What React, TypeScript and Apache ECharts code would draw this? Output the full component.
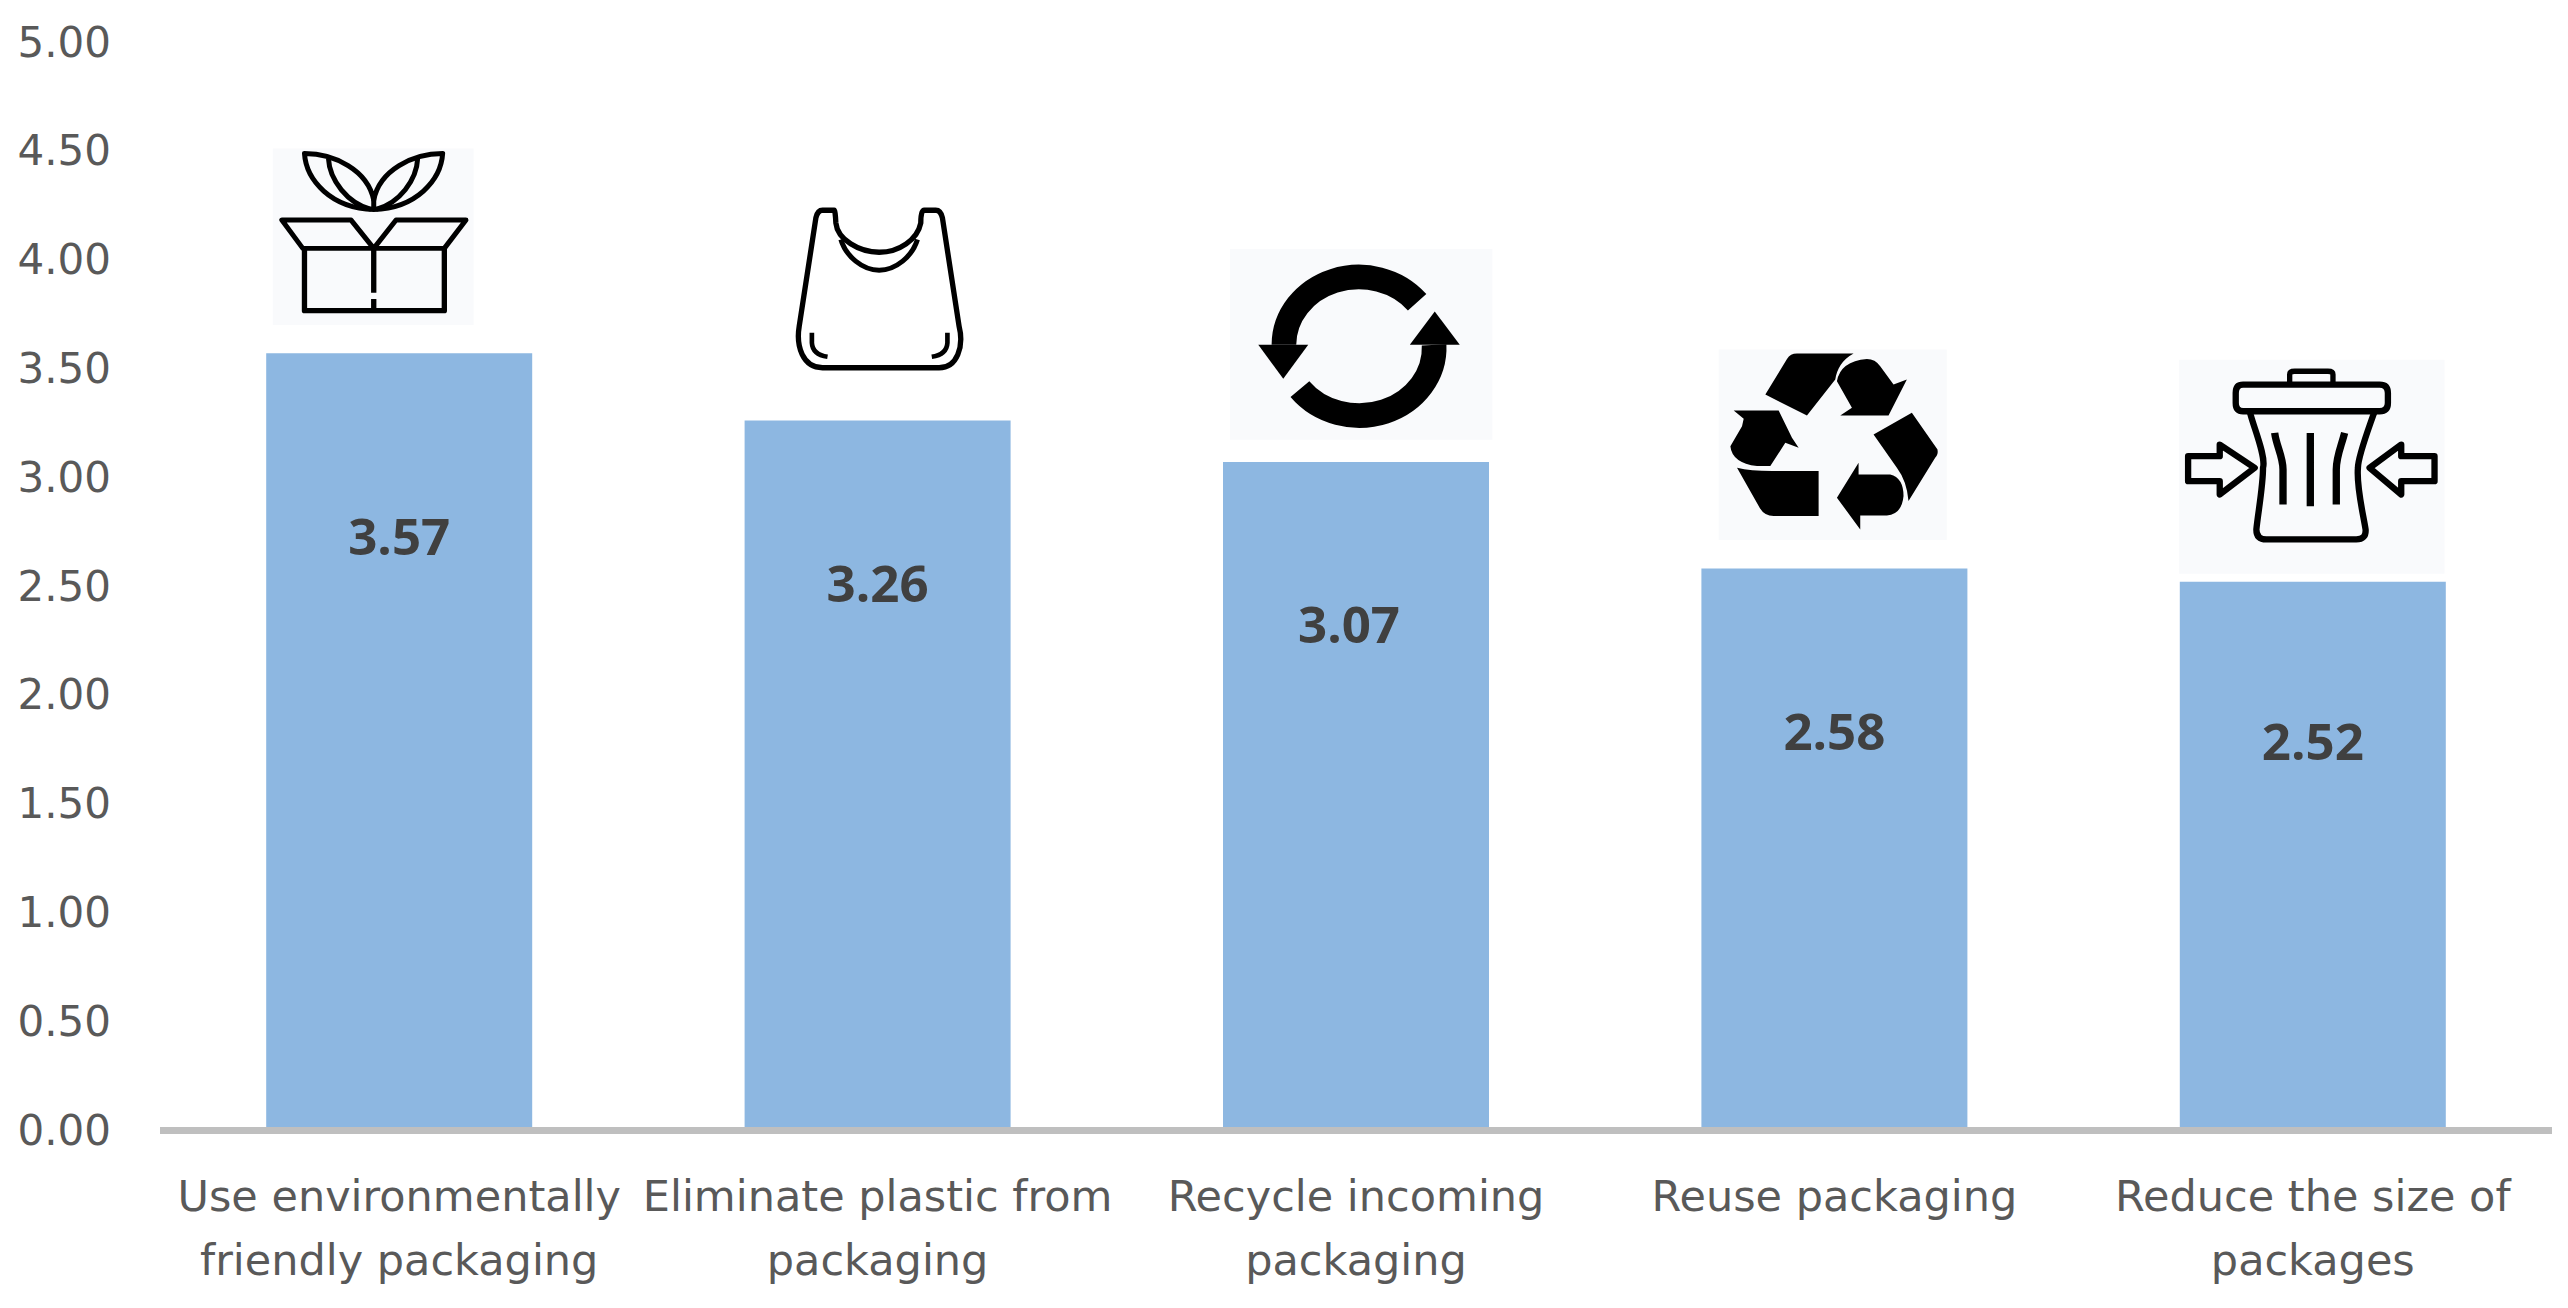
import React, { useEffect, useRef } from 'react';
import * as echarts from 'echarts';

const categories = [
  'Use environmentally\nfriendly packaging',
  'Eliminate plastic from\npackaging',
  'Recycle incoming\npackaging',
  'Reuse packaging',
  'Reduce the size of\npackages',
];
const values = [3.57, 3.26, 3.07, 2.58, 2.52];
// label nudges from the bar's top centre, in px
const labelOffsetX = [0, 0, -7, 0, 0];
const labelOffsetY = [156, 136, 136, 136, 133];

type Piece = { d: string; fill?: boolean; width?: number };
type Icon = { dx: number; dy: number; box?: number[]; pieces: Piece[] };

// Icons are drawn in 3x crop units, dx/dy place them relative to the top of their bar
const icons: Icon[] = [
  {
    dx: -158,
    dy: -233,
    box: [95, 85, 603, 530],
    pieces: [
      { d: 'M190,100 C195,180 270,265 398,268 C525,265 600,180 605,100 C515,100 415,150 398,240 C380,150 280,100 190,100 Z', width: 15 },
      { d: 'M262,115 C265,180 320,250 390,268 M530,115 C527,180 475,250 405,268 M398,215 V268', width: 15 },
      { d: 'M185,385 L122,300 H330 L398,385 L465,300 H675 L610,385 Z', width: 15 },
      { d: 'M190,385 V572 H610 V385 M398,385 V518 M398,537 V572', width: 16 },
    ],
  },
  {
    dx: -115,
    dy: -241,
    pieces: [
      {
        d: 'M215,92 H180 Q165,92 160,115 L110,440 C100,500 120,565 180,565 H530 C585,565 605,500 590,440 L540,115 Q535,92 520,92 H485 Q475,92 475,130 C465,180 410,218 350,218 C290,218 225,180 220,130 Q218,92 215,92 Z',
        width: 16,
      },
      { d: 'M235,180 C250,230 300,272 350,272 C400,272 450,230 465,180', width: 15 },
      { d: 'M148,460 V490 Q150,525 195,532 M555,460 V490 Q553,525 508,532', width: 14 },
    ],
  },
  {
    dx: -146,
    dy: -232,
    box: [60, 57, 788, 573],
    pieces: [
      { d: 'M622,217 A225,204 0 0 0 222,345', width: 74 },
      { d: 'M270,478 A225,204 0 0 0 673,345', width: 74 },
      { d: 'M145,345 H295 L220,447 Z', fill: true },
      { d: 'M600,345 H750 L675,245 Z', fill: true },
    ],
  },
  {
    dx: -134,
    dy: -239,
    box: [55, 60, 685, 572],
    pieces: [
      { d: 'M290,72 H460 C425,90 410,120 405,150 L320,258 L195,195 L260,88 Q270,72 290,72 Z', fill: true },
      { d: 'M500,88 Q525,88 540,110 L580,165 L620,150 L565,258 H420 L455,235 L410,155 Q420,95 500,88 Z', fill: true },
      { d: 'M520,315 L635,250 L712,360 Q715,375 705,385 L625,515 Q620,455 590,415 Z', fill: true },
      { d: 'M475,400 V435 H570 Q610,445 610,500 Q605,555 560,558 H480 V600 L410,505 Z', fill: true },
      { d: 'M110,415 Q150,425 215,425 H355 V560 H220 Q190,560 175,530 Z', fill: true },
      { d: 'M100,243 H235 L275,325 L295,355 L255,340 L210,410 H170 Q95,400 90,350 L125,290 L130,268 Z', fill: true },
    ],
  },
  {
    dx: -153,
    dy: -242,
    box: [58, 60, 797, 643],
    pieces: [
      { d: 'M390,130 V105 Q390,95 405,95 H505 Q520,95 520,105 V130', width: 16 },
      { d: 'M250,135 H660 Q685,135 685,160 V190 Q685,215 660,215 H250 Q228,215 228,190 V160 Q228,135 250,135 Z', width: 19 },
      {
        d: 'M270,215 C280,260 320,350 310,385 C310,440 295,520 290,570 Q290,600 320,600 H590 Q620,600 618,570 C610,520 590,440 595,385 C595,350 630,260 645,215',
        width: 19,
      },
      { d: 'M345,280 C350,320 370,350 370,390 V495 M452,280 V500 M555,280 C545,320 530,350 530,390 V495', width: 22 },
      { d: 'M85,350 H180 V315 L285,385 L180,465 V425 H85 Z', width: 19 },
      { d: 'M825,350 H725 V315 L630,385 L725,465 V425 H825 Z', width: 19 },
    ],
  },
];

const renderIcon = (params: any, api: any) => {
  const icon = icons[params.dataIndex];
  const top = api.coord([api.value(0), api.value(1)]);
  const children: any[] = [];
  if (icon.box) {
    const [x, y, width, height] = icon.box;
    children.push({ type: 'rect', shape: { x, y, width, height }, style: { fill: '#F9FAFC' } });
  }
  icon.pieces.forEach((p) => {
    children.push({
      type: 'path',
      shape: { pathData: p.d },
      style: p.fill
        ? { fill: '#000000' }
        : { fill: 'none', stroke: '#000000', lineWidth: p.width, lineJoin: 'round' },
    });
  });
  return {
    type: 'group',
    x: top[0] + icon.dx,
    y: top[1] + icon.dy,
    scaleX: 1 / 3,
    scaleY: 1 / 3,
    children,
  };
};

const App: React.FC = () => {
  const chartRef = useRef<HTMLDivElement>(null);

  useEffect(() => {
    if (!chartRef.current) return;

    const chart = echarts.init(chartRef.current, null, { renderer: 'svg' });

    chart.setOption({
      animation: false,
      backgroundColor: '#ffffff',
      grid: { left: 160, right: 16, top: 42, bottom: 178 },
      xAxis: {
        type: 'category',
        data: categories,
        z: 3,
        axisLine: { lineStyle: { color: '#BFBFBF', width: 7, cap: 'butt' } },
        axisTick: { show: false },
        axisLabel: {
          interval: 0,
          color: '#595959',
          fontFamily: 'DejaVu Sans',
          fontSize: 43,
          lineHeight: 64,
          margin: 34,
        },
      },
      yAxis: {
        type: 'value',
        min: 0,
        max: 5,
        interval: 0.5,
        axisLine: { show: false },
        axisTick: { show: false },
        splitLine: { show: false },
        axisLabel: {
          color: '#595959',
          fontFamily: 'DejaVu Sans',
          fontSize: 42,
          margin: 49,
          formatter: (value: number) => value.toFixed(2),
        },
      },
      series: [
        {
          type: 'bar',
          barWidth: 266,
          itemStyle: { color: '#8DB7E1' },
          data: values.map((value, i) => ({
            value,
            label: { offset: [labelOffsetX[i], labelOffsetY[i]] },
          })),
          label: {
            show: true,
            position: 'insideTop',
            distance: 0,
            color: '#404040',
            fontFamily: 'Open Sans',
            fontWeight: 'bold',
            fontSize: 51,
            formatter: (params: any) => params.value.toFixed(2),
          },
        },
        {
          type: 'custom',
          renderItem: renderIcon,
          data: values.map((value, i) => [i, value]),
          encode: { x: 0, y: 1 },
          silent: true,
          z: 4,
        },
      ],
    });

    return () => {
      chart.dispose();
    };
  }, []);

  return <div ref={chartRef} style={{ position: 'fixed', left: 0, top: 0, width: 2568, height: 1308 }} />;
};

export default App;
